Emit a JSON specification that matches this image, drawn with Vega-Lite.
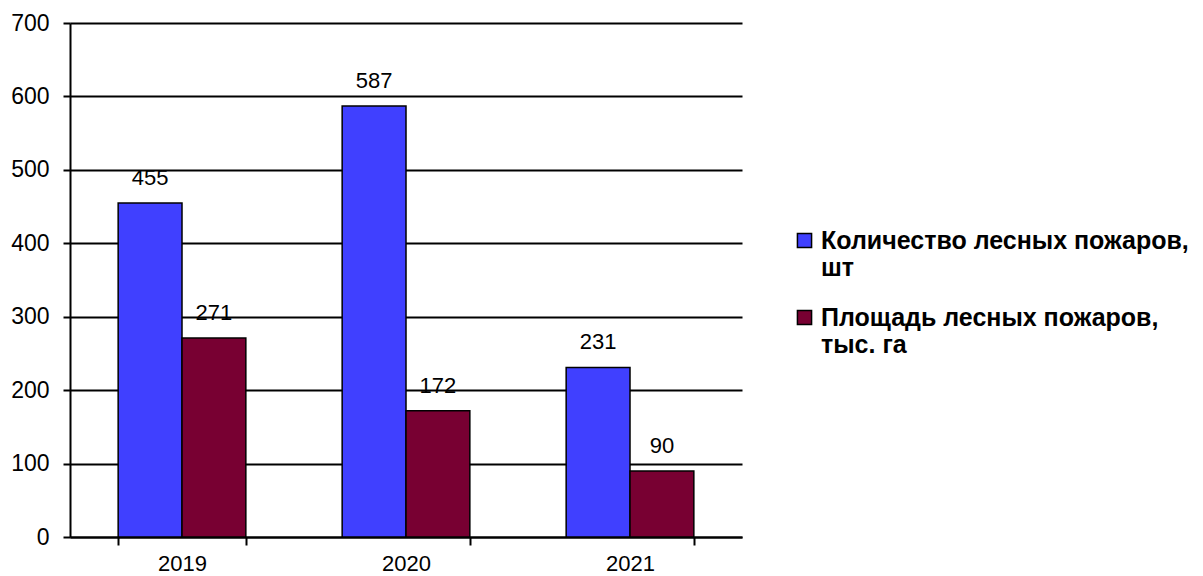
{
  "$schema": "https://vega.github.io/schema/vega-lite/v6.json",
  "width": 672,
  "height": 514,
  "autosize": {"type": "none"},
  "padding": {"left": 70, "top": 23, "right": 461, "bottom": 39},
  "background": "white",
  "config": {
    "font": "Liberation Sans",
    "view": {"stroke": null}
  },
  "data": {
    "values": [
      {"year": "2019", "series": "Количество лесных пожаров,|шт", "value": 455},
      {"year": "2019", "series": "Площадь лесных пожаров,|тыс. га", "value": 271},
      {"year": "2020", "series": "Количество лесных пожаров,|шт", "value": 587},
      {"year": "2020", "series": "Площадь лесных пожаров,|тыс. га", "value": 172},
      {"year": "2021", "series": "Количество лесных пожаров,|шт", "value": 231},
      {"year": "2021", "series": "Площадь лесных пожаров,|тыс. га", "value": 90}
    ]
  },
  "encoding": {
    "x": {
      "field": "year",
      "type": "nominal",
      "title": null,
      "scale": {"paddingInner": 0.43, "paddingOuter": 0.215},
      "axis": {
        "labelAngle": 0,
        "labelFontSize": 22,
        "labelColor": "black",
        "labelPadding": 8,
        "tickBand": "extent",
        "tickSize": 8,
        "tickColor": "black",
        "tickWidth": 2,
        "domainColor": "black",
        "domainWidth": 2,
        "grid": false
      }
    },
    "xOffset": {"field": "series", "type": "nominal", "sort": ["Количество лесных пожаров,|шт", "Площадь лесных пожаров,|тыс. га"], "scale": {"paddingInner": 0, "paddingOuter": 0}},
    "y": {
      "field": "value",
      "type": "quantitative",
      "title": null,
      "scale": {"domain": [0, 700]},
      "axis": {
        "values": [0, 100, 200, 300, 400, 500, 600, 700],
        "labelFontSize": 23,
        "labelColor": "black",
        "labelPadding": 14,
        "tickSize": 7,
        "tickColor": "black",
        "tickWidth": 2,
        "domainColor": "black",
        "domainWidth": 2,
        "grid": true,
        "gridColor": "black",
        "gridWidth": 2,
        "gridOpacity": 1
      }
    }
  },
  "layer": [
    {
      "mark": {"type": "bar", "stroke": "black", "strokeWidth": 1.5},
      "encoding": {
        "color": {
          "field": "series",
          "type": "nominal",
          "sort": ["Количество лесных пожаров,|шт", "Площадь лесных пожаров,|тыс. га"],
          "scale": {"range": ["#4040FF", "#780032"]},
          "legend": {
            "title": null,
            "orient": "none",
            "legendX": 722,
            "legendY": 205,
            "symbolType": "square",
            "symbolSize": 200,
            "symbolStrokeColor": "black",
            "symbolStrokeWidth": 1.5,
            "symbolOpacity": 1,
            "labelFontSize": 25,
            "labelFontWeight": "bold",
            "labelColor": "black",
            "labelLimit": 500,
            "labelOffset": 4,
            "labelBaseline": "middle",
            "labelExpr": "split(datum.label, '|')",
            "rowPadding": 24,
            "labelAlign": "left"
          }
        }
      }
    },
    {
      "mark": {"type": "text", "baseline": "bottom", "dy": -13, "fontSize": 22, "color": "black"},
      "encoding": {
        "text": {"field": "value", "type": "quantitative"}
      }
    }
  ]
}
